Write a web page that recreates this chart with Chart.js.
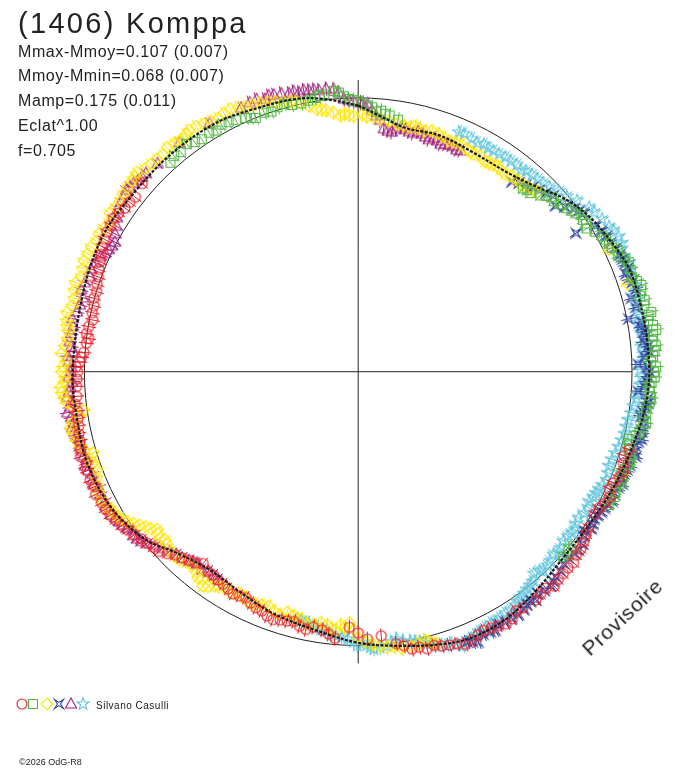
<!DOCTYPE html>
<html><head><meta charset="utf-8">
<script src="https://cdn.jsdelivr.net/npm/chart.js@4.4.1/dist/chart.umd.min.js"></script>
<style>
html,body{margin:0;padding:0;background:#fff;}
#wrap{position:relative;width:688px;height:768px;overflow:hidden;background:#fff;}
#c{position:absolute;left:0;top:0;}
.t{position:absolute;white-space:nowrap;font-family:"Liberation Sans",Arial,sans-serif;color:#222;line-height:1;}
</style></head><body>
<div id="wrap">
<canvas id="c" width="688" height="768"></canvas>
<div class="t" style="left:18px;top:8.5px;font-size:29px;letter-spacing:2.3px;">(1406) Komppa</div>
<div class="t" style="left:18px;top:43.5px;font-size:16px;letter-spacing:0.6px;">Mmax-Mmoy=0.107 (0.007)</div>
<div class="t" style="left:18px;top:68.3px;font-size:16px;letter-spacing:0.6px;">Mmoy-Mmin=0.068 (0.007)</div>
<div class="t" style="left:18px;top:93.1px;font-size:16px;letter-spacing:0.6px;">Mamp=0.175 (0.011)</div>
<div class="t" style="left:18px;top:117.9px;font-size:16px;letter-spacing:0.6px;">Eclat^1.00</div>
<div class="t" style="left:18px;top:142.7px;font-size:16px;letter-spacing:0.6px;">f=0.705</div>
<div class="t" style="left:590px;top:639px;font-size:21px;letter-spacing:0.8px;transform-origin:0 17.8px;transform:rotate(-43deg);">Provisoire</div>
<div class="t" style="left:96px;top:700.5px;font-size:10px;letter-spacing:0.5px;">Silvano Casulli</div>
<div class="t" style="left:19px;top:758.4px;font-size:9px;">©2026 OdG-R8</div>
</div>
<script>
// ---- data: phase angle (deg, clockwise from top) and relative radius (1 = reference circle)
const redPhase = [106,109,112,115,118,121,124,127,130,133,136,139,142,145,148,151,154,157,160,163,166,169,172,175,178,180,182,185,188,190,193,196,199,202,205,208,211,214,217,219,222,225,228,231,234,237,240,243,245,248,250,253,256,259,262,265,267,270,272,274,276,278,281,284,287,290,293,296,299,302,305,308,311,
  107.5,110.5,113.5,116.5,119.5,125.5,128.5,131.5,134.5,137.5,140.5,146.5,149.5,152.5,155.5,158.5,161.5,164.5,167.5,170.5,186.5,191.5,194.5,197.5,200.5,203.5,206.5,209.5,212.5,215.5,220.5,223.5,226.5,229.5,232.5,235.5,238.5,241.5,246.5,251.5,254.5,257.5,260.5,263.5,268.5,271,273,277,279.5,282.5,285.5,288.5,291.5,294.5,297.5,300.5,303.5,306.5];
const redR = [1.030,1.024,1.028,1.012,1.020,1.008,1.016,1.030,1.040,1.048,1.052,1.045,1.055,1.050,1.062,1.058,1.048,1.062,1.055,1.045,1.040,1.030,1.000,0.966,0.975,0.952,0.932,0.975,0.950,0.945,0.952,0.945,0.955,0.940,0.930,0.925,0.923,0.915,0.912,0.899,0.925,0.945,0.979,0.992,1.010,1.030,1.046,1.052,1.058,1.056,1.054,1.060,1.048,1.040,1.035,1.032,1.030,1.025,1.018,1.005,0.998,1.002,0.988,0.995,0.999,1.010,1.025,1.040,1.050,1.054,1.040,1.033,1.045,
  1.018,1.035,1.015,1.025,1.010,1.022,1.038,1.050,1.050,1.060,1.048,1.045,1.066,1.052,1.055,1.068,1.050,1.035,1.028,1.012,0.962,0.958,0.940,0.948,0.950,0.938,0.920,0.930,0.918,0.910,0.915,0.935,0.962,0.985,1.000,1.020,1.038,1.050,1.050,1.048,1.052,1.045,1.038,1.040,1.028,1.030,1.012,0.992,0.998,0.995,1.002,1.005,1.018,1.032,1.045,1.050,1.048,1.038];

const greenPhase = [318,321,323,326,328,331,334,336,338,340,343,346,348,351,353,355,357,359,1,3,5,7,9,42,44,47,49,52,54,56,58,61,63,64,66,68,71,73,75,77,78.5,80,82,84,86,88,89,91,93,95,97,100,102,104,106,108,110,112,114,116,118,130,131,
  319.5,324.5,329.5,332.5,337,341.5,344.5,349.5,352,356,358,0,2,4,6,43,46,48,50.5,53,55,57,59.5,62,65,67,69.5,72,74,76,79,81,83,85,87,90,92,94,96,98,99,101,103,105,107,109,111,113,115,117,129,132];
const greenR = [1.025,1.030,1.040,1.022,1.027,1.030,1.020,1.012,0.998,1.005,1.008,1.002,1.000,1.010,1.018,1.027,1.005,0.990,0.981,0.965,0.955,0.941,0.930,0.899,0.905,0.940,0.947,0.968,0.982,0.990,0.985,1.019,1.028,1.031,1.040,1.066,1.058,1.081,1.065,1.072,1.092,1.075,1.099,1.080,1.085,1.070,1.088,1.083,1.065,1.074,1.060,1.068,1.050,1.017,1.030,1.045,1.037,1.039,1.030,1.041,1.035,1.003,1.018,
  1.035,1.028,1.020,1.025,1.005,1.000,1.012,1.005,1.015,1.020,0.995,0.985,0.970,0.950,0.945,0.905,0.925,0.950,0.960,0.975,0.995,0.992,1.005,1.025,1.045,1.055,1.062,1.070,1.075,1.078,1.080,1.090,1.085,1.092,1.078,1.080,1.072,1.068,1.070,1.062,1.055,1.060,1.040,1.025,1.038,1.042,1.030,1.044,1.036,1.030,1.010,1.008];

const yellowPhase = [164,166,169,171,174,177,180,182,183,185,187,190,193,195,198,201,204,207,210,213,215,217,219,222,225,228,230,232,234,236,238,240,242,245,248,251,253,255,258,260,262,264,266,268,270,272,275,278,280,283,286,289,292,295,298,301,304,307,310,312,315,318,321,323,325,328,331,334,337,340,343,346,348,351,353,356,358,2,5,9,12,14,17,20,23,26,28,31,33,35,38,41,43,45,64,72,
  165,167.5,172.5,175.5,178.5,181,184,186,188.5,191.5,194,196.5,199.5,202.5,205.5,208.5,211.5,214,216,218,220.5,223.5,226.5,229,231,233,235,237,239,241,243.5,246.5,249.5,252,254,256.5,259,261,263,265,267,269,271,273.5,276.5,279,281.5,284.5,287.5,290.5,293.5,296.5,299.5,302.5,305.5,308.5,311,313.5,316.5,319.5,322,324,326.5,329.5,332.5,335.5,338.5,341.5,344.5,347,349.5,352,354.5,357,359,1,3.5,7,10.5,13,15.5,18.5,21.5,24.5,27,29.5,32,34,36.5,39.5,42,44];
const yellowR = [1.030,1.008,1.020,1.021,1.010,0.995,0.970,0.916,0.934,0.945,0.930,0.935,0.925,0.920,0.930,0.915,0.925,0.921,0.930,0.935,0.955,0.945,0.940,0.935,0.950,0.940,0.945,0.933,0.960,0.990,1.015,1.032,1.040,1.045,1.030,1.025,1.013,1.050,1.064,1.058,1.013,1.070,1.085,1.074,1.082,1.065,1.075,1.070,1.080,1.072,1.078,1.068,1.080,1.075,1.071,1.060,1.070,1.075,1.080,1.086,1.070,1.065,1.070,1.060,1.076,1.065,1.056,1.066,1.050,1.040,1.027,1.015,1.000,0.969,0.960,0.936,0.935,0.930,0.925,0.915,0.912,0.914,0.918,0.910,0.908,0.903,0.898,0.895,0.900,0.901,0.905,0.905,0.915,0.928,1.018,1.035,
  1.020,1.015,1.012,1.002,0.985,0.940,0.925,0.940,0.925,0.940,0.930,0.915,0.925,0.920,0.930,0.918,0.925,0.940,0.965,0.952,0.930,0.945,0.948,0.935,0.940,0.950,0.975,1.005,1.025,1.035,1.048,1.040,1.020,1.030,1.040,1.060,1.070,1.030,1.050,1.078,1.088,1.070,1.078,1.085,1.068,1.076,1.085,1.070,1.082,1.074,1.078,1.068,1.065,1.075,1.068,1.078,1.082,1.075,1.068,1.075,1.065,1.070,1.072,1.060,1.062,1.058,1.045,1.035,1.020,1.008,0.985,0.965,0.948,0.940,0.932,0.938,0.928,0.920,0.912,0.918,0.910,0.915,0.905,0.910,0.900,0.905,0.898,0.905,0.898,0.908,0.910,0.920];

const bluePhase = [39,42,45,48,50,53,55,57.6,60,63,66,68,70,72,75,79,81,83,85,87,88.5,90,91,93,94,95.3,96.2,98,100,101.5,103.4,105,106.2,108,110,112,114,117,119,121,123,125,127.5,130,133,136,138,141,143,145,148,151,153,156,158,
  40.5,43.5,46.5,51.5,54,58.5,61.5,64.5,67,69,71,73.5,77,80,82,84,86,89,92,97,99,102,104,107,109,111,113,115.5,118,120,122,124,126,129,131.5,134.5,137,139.5,142,144,146.5,149.5,152,154.5,157];
const blueR = [0.891,0.915,0.935,0.958,0.941,0.985,1.005,0.942,1.025,1.032,1.045,1.050,1.040,1.052,1.032,1.006,1.045,1.058,1.062,1.047,1.023,1.064,1.060,1.047,1.025,1.063,1.065,1.050,1.062,1.055,1.064,1.048,1.052,1.042,1.045,1.036,1.040,1.041,1.028,1.020,1.021,1.012,1.033,1.030,1.028,1.040,1.051,1.042,1.048,1.057,1.060,1.055,1.065,1.079,1.062,
  0.905,0.925,0.945,0.965,0.995,1.015,1.030,1.040,1.048,1.055,1.045,1.058,1.040,1.050,1.055,1.048,1.065,1.058,1.055,1.058,1.045,1.060,1.055,1.060,1.050,1.040,1.048,1.035,1.032,1.025,1.015,1.025,1.020,1.035,1.025,1.035,1.045,1.048,1.055,1.050,1.062,1.058,1.068,1.060,1.070];

const purplePhase = [214,217,220,222,225,228,231,233,235,237,239,241,243,246,248,250,252,254,256,258,260,262,264,266,268,270,272,274,276,279,282,285,288,291,294,296,298,301,304,307,309,311,313,316,322,329,336,338,341,343,346,348,350,352,355,357,359,0.5,2,3,5,6,8,10,12,14,16,18,20,22,24,
  215.5,218.5,221,223.5,226.5,229.5,232,234,236,238,240,242,244.5,247,249,251,253,255,257,259,261,263,265,267,269,271,273,275,277.5,280.5,283.5,286.5,289.5,292.5,295,297,299.5,302.5,305.5,308,310,312,339.5,342,344.5,347,349,351,353.5,356,358,1,4,7,9,11,13,15,17,19,21,23,25];
const purpleR = [0.915,0.910,0.915,0.925,0.940,0.962,0.995,1.012,1.005,1.025,1.034,1.040,1.038,1.037,1.045,1.050,1.040,1.050,1.046,1.060,1.055,1.073,1.055,1.060,1.045,1.050,1.058,1.045,1.060,1.054,1.050,1.040,1.050,1.045,1.030,1.015,1.007,1.030,1.060,1.068,1.072,1.065,1.060,1.055,1.060,1.055,1.052,1.058,1.050,1.055,1.045,1.040,1.040,1.035,1.033,0.995,0.985,0.981,0.976,0.953,0.920,0.891,0.882,0.905,0.895,0.902,0.890,0.895,0.882,0.890,0.885,
  0.912,0.920,0.918,0.935,0.950,0.975,1.005,1.015,1.020,1.030,1.042,1.045,1.042,1.050,1.040,1.055,1.048,1.052,1.055,1.065,1.062,1.060,1.068,1.052,1.058,1.048,1.062,1.052,1.058,1.062,1.045,1.055,1.040,1.038,1.020,1.010,1.020,1.045,1.065,1.075,1.070,1.062,1.060,1.058,1.052,1.048,1.045,1.040,1.038,1.020,0.990,0.978,0.935,0.885,0.895,0.900,0.892,0.898,0.885,0.890,0.888,0.892,0.888];

const cyanPhase = [22.8,26,30.2,33,36,40,43,46.2,50,54.6,58,62.6,65,68.1,71,74,77,80,83,86,88,91,94.5,97,100,103,106,109,112,114.9,117,119.3,122,125,127,129.5,132,134.5,137,138.9,141,143,145,147.3,150,152,155,157,159.2,161,163,165,167,169,171.8,174,176.8,178,180.2,182.3,185,187,189,191.2,193,
  24,27.5,29,31.5,34.5,37.5,39,41.5,44.5,48,52,56,60,61,64,66.5,69.5,72.5,75.5,78.5,81.5,84.5,87,89.5,92.5,95.5,98.5,101.5,104.5,107.5,110.5,113.5,116,118,120.5,123.5,126,128,131,133,135.5,137.5,140,142,144,146,148.5,151,153.5,156,158,160,162,164,166,168,170.5,173,175.5,177.5,179,181,183.5,186,188,190,192,194];
const cyanR = [0.948,0.945,0.943,0.945,0.948,0.955,0.960,0.970,0.995,1.035,1.050,1.071,1.060,1.064,1.060,1.050,1.045,1.040,1.050,1.045,1.040,1.035,1.026,1.015,1.002,1.000,0.990,0.980,0.985,0.983,0.975,0.967,0.972,0.968,0.975,0.970,0.985,0.982,0.990,0.976,1.000,1.010,1.020,1.031,1.035,1.036,1.045,1.055,1.068,1.045,1.040,1.025,1.010,1.000,0.984,1.005,1.012,0.995,0.998,0.975,0.966,0.950,0.945,0.933,0.930,
  0.950,0.940,0.948,0.945,0.950,0.952,0.945,0.958,0.965,0.985,1.015,1.040,1.058,1.065,1.070,1.058,1.062,1.055,1.056,1.048,1.045,1.040,1.050,1.030,1.032,1.020,1.010,1.000,0.995,0.985,0.978,0.990,0.978,0.972,0.975,0.965,0.978,0.972,0.978,0.975,0.988,0.982,0.995,1.005,1.015,1.025,1.030,1.040,1.042,1.050,1.060,1.058,1.048,1.035,1.018,1.005,0.995,0.992,1.008,1.005,0.990,0.985,0.970,0.958,0.948,0.940,0.935,0.928];

const fitPhase = [0,5,11,19,27,37,44,50,56,63,69,75,83,90,96,102,112,122,132,141,149,157,164,173,180,187,199,208,217,225,232,241,251,260,270,286,298,308,319,330,339,347,353,360];
const fitR = [0.970,0.935,0.905,0.911,0.903,0.908,0.937,0.982,1.015,1.039,1.058,1.060,1.061,1.063,1.058,1.045,1.027,1.012,1.010,1.029,1.050,1.054,1.035,1.006,0.988,0.962,0.935,0.912,0.903,0.935,0.990,1.028,1.044,1.041,1.043,1.045,1.056,1.047,1.047,1.045,1.029,1.020,1.001,0.970];

const axisH = [-1, 1];          // horizontal axis extent (radius units)
const axisV = [-1.063, 1.063];  // vertical axis extent

// ---- helpers
function toXY(ph, r) {
  return ph.map((p, i) => ({ x: r[i] * Math.sin(p * Math.PI / 180), y: r[i] * Math.cos(p * Math.PI / 180) }));
}
function marker(kind, color) {
  const s = 18, c = document.createElement('canvas');
  c.width = s; c.height = s;
  const g = c.getContext('2d');
  g.strokeStyle = color; g.lineWidth = 1.1;
  const m = s / 2;
  g.beginPath();
  if (kind === 'circle') g.arc(m, m, 5, 0, 2 * Math.PI);
  else if (kind === 'square') g.rect(m - 4.5, m - 4.5, 9, 9);
  else if (kind === 'diamond') { g.moveTo(m, m - 6); g.lineTo(m + 6, m); g.lineTo(m, m + 6); g.lineTo(m - 6, m); g.closePath(); }
  else if (kind === 'star4') { const o = 4.6, i = 1.6; g.moveTo(m - o, m - o); g.lineTo(m, m - i); g.lineTo(m + o, m - o); g.lineTo(m + i, m); g.lineTo(m + o, m + o); g.lineTo(m, m + i); g.lineTo(m - o, m + o); g.lineTo(m - i, m); g.closePath(); }
  else if (kind === 'triangle') { g.moveTo(m, m - 6); g.lineTo(m + 5.5, m + 4); g.lineTo(m - 5.5, m + 4); g.closePath(); }
  else if (kind === 'star5') { for (let k = 0; k < 10; k++) { const rr = k % 2 ? 2.6 : 6.4; const a = -Math.PI / 2 + k * Math.PI / 5; const px = m + rr * Math.cos(a), py = m + rr * Math.sin(a); if (k) g.lineTo(px, py); else g.moveTo(px, py); } g.closePath(); }
  g.stroke();
  return c;
}

const series = [
  { ph: redPhase, r: redR, color: '#ec1c24', kind: 'circle' },
  { ph: greenPhase, r: greenR, color: '#56b946', kind: 'square' },
  { ph: yellowPhase, r: yellowR, color: '#ffe600', kind: 'diamond' },
  { ph: bluePhase, r: blueR, color: '#30479e', kind: 'star4' },
  { ph: purplePhase, r: purpleR, color: '#a2237f', kind: 'triangle' },
  { ph: cyanPhase, r: cyanR, color: '#62c6dc', kind: 'star5' }
];
series.forEach(s => s.img = marker(s.kind, s.color));

// pixel frame: centre (358.5, 371.5), 279.5 px per unit radius
const PX = 279.5, CX = 358.5, CY = 371.5, W = 688, H = 768;

const frame = {
  id: 'frame',
  beforeDatasetsDraw(chart) {
    const { ctx, scales: { x, y } } = chart;
    const cx = x.getPixelForValue(0), cy = y.getPixelForValue(0);
    const R = x.getPixelForValue(1) - cx;
    ctx.save();
    ctx.strokeStyle = '#222'; ctx.lineWidth = 1;
    ctx.beginPath(); ctx.arc(cx, cy, R, 0, 2 * Math.PI); ctx.stroke();
    ctx.beginPath();
    ctx.moveTo(x.getPixelForValue(axisH[0]), cy); ctx.lineTo(x.getPixelForValue(axisH[1]), cy);
    ctx.moveTo(cx, y.getPixelForValue(axisV[0])); ctx.lineTo(cx, y.getPixelForValue(axisV[1]));
    ctx.stroke();
    ctx.restore();
  }
};
const errBars = {
  id: 'errBars',
  beforeDatasetDraw(chart, args) {
    const ds = chart.data.datasets[args.index];
    if (!ds.errLen) return;
    const { ctx, scales: { x, y } } = chart;
    const cx = x.getPixelForValue(0), cy = y.getPixelForValue(0);
    ctx.save(); ctx.strokeStyle = ds.borderColor; ctx.lineWidth = 1;
    ctx.beginPath();
    for (const el of args.meta.data) {
      const dx = el.x - cx, dy = el.y - cy, d = Math.hypot(dx, dy) || 1;
      const ux = dx / d * ds.errLen, uy = dy / d * ds.errLen;
      ctx.moveTo(el.x - ux, el.y - uy); ctx.lineTo(el.x + ux, el.y + uy);
    }
    ctx.stroke(); ctx.restore();
  }
};
const legendX = [21.7, 33.3, 46.7, 59.3, 70.7, 83.3], legendY = 704;
const legendMarks = {
  id: 'legendMarks',
  afterDraw(chart) {
    const ctx = chart.ctx;
    series.forEach((s, i) => {
      const im = s.img;
      ctx.drawImage(im, Math.round(legendX[i] - im.width / 2), Math.round(legendY - im.height / 2));
    });
  }
};

const datasets = [{
  label: 'fit',
  data: toXY(fitPhase, fitR),
  showLine: true, tension: 0.35,
  borderColor: '#1b1b1b', borderWidth: 2.2, borderDash: [3, 1.5],
  pointRadius: 0, order: 0
}];
series.forEach((s, i) => datasets.push({
  label: s.kind,
  data: toXY(s.ph, s.r),
  borderColor: s.color,
  pointStyle: s.img, pointRadius: 6,
  showLine: false, errLen: 7.5, order: i + 1
}));

new Chart(document.getElementById('c'), {
  type: 'scatter',
  data: { datasets },
  options: {
    responsive: false, animation: false,
    layout: { padding: 0 },
    plugins: { legend: { display: false }, tooltip: { enabled: false }, title: { display: false } },
    scales: {
      x: { type: 'linear', display: false, min: -CX / PX, max: (W - CX) / PX },
      y: { type: 'linear', display: false, min: -(H - CY) / PX, max: CY / PX }
    }
  },
  plugins: [frame, errBars, legendMarks]
});
</script>
</body></html>
